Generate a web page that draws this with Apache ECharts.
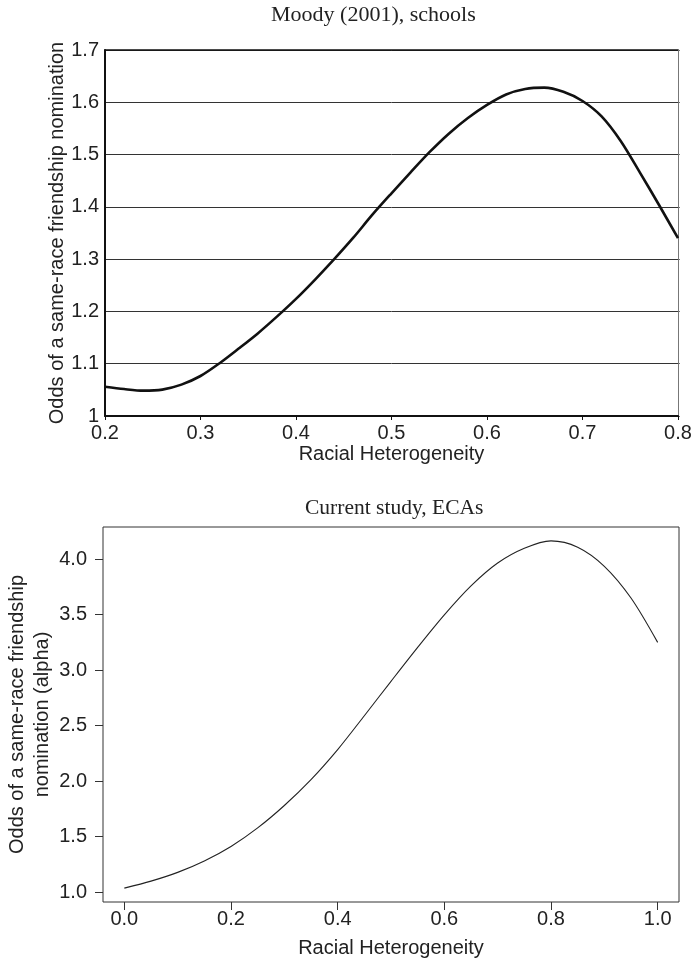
<!DOCTYPE html>
<html>
<head>
<meta charset="utf-8">
<script src="https://cdn.jsdelivr.net/npm/echarts@6/dist/echarts.min.js"></script>
<style>
  html, body { margin: 0; padding: 0; background: #fff; }
  #chart { width: 693px; height: 962px; }
</style>
</head>
<body>
<div id="chart"></div>
<script>
// Upper panel: Moody (2001), schools
const moodyX = [0.20, 0.22, 0.24, 0.26, 0.28, 0.30, 0.32, 0.34, 0.36, 0.38,
                0.40, 0.42, 0.44, 0.46, 0.48, 0.50, 0.52, 0.54, 0.56, 0.58,
                0.60, 0.62, 0.64, 0.66, 0.68, 0.70, 0.72, 0.74, 0.76, 0.78, 0.80];
const moodyOdds = [1.056, 1.0515, 1.0485, 1.0505, 1.0600, 1.0765, 1.101, 1.129, 1.158, 1.190,
                   1.224, 1.261, 1.300, 1.341, 1.385, 1.426, 1.466, 1.505, 1.540, 1.570,
                   1.595, 1.615, 1.6255, 1.628, 1.620, 1.6025, 1.573, 1.526, 1.466, 1.404, 1.340];

// Lower panel: current study, ECAs
const ecaX = [0.00, 0.05, 0.10, 0.15, 0.20, 0.25, 0.30, 0.35, 0.40, 0.45, 0.50,
              0.55, 0.60, 0.65, 0.70, 0.75, 0.80, 0.85, 0.90, 0.95, 1.00];
const ecaOdds = [1.035, 1.098, 1.177, 1.280, 1.411, 1.578, 1.780, 2.013, 2.284, 2.589, 2.899,
                 3.205, 3.498, 3.759, 3.965, 4.098, 4.165, 4.108, 3.936, 3.650, 3.250];

// Tick values
const moodyXTicks = [0.2, 0.3, 0.4, 0.5, 0.6, 0.7, 0.8];
const moodyYTicks = [1, 1.1, 1.2, 1.3, 1.4, 1.5, 1.6, 1.7];
const ecaXTicks = [0.0, 0.2, 0.4, 0.6, 0.8, 1.0];
const ecaYTicks = [1.0, 1.5, 2.0, 2.5, 3.0, 3.5, 4.0];

const sans = 'Liberation Sans, Arial, sans-serif';
const serif = 'Liberation Serif, Times New Roman, serif';
const ink = '#222';

const pair = (xs, ys) => xs.map((x, i) => [x, ys[i]]);

const chart = echarts.init(document.getElementById('chart'), null, { renderer: 'canvas' });

chart.setOption({
  backgroundColor: '#fff',
  animation: false,
  title: [
    {
      text: 'Moody (2001), schools',
      left: 271, top: 4, padding: 0,
      textStyle: { fontFamily: serif, fontSize: 22, fontWeight: 'normal', color: ink }
    },
    {
      text: 'Current study, ECAs',
      left: 305, top: 497, padding: 0,
      textStyle: { fontFamily: serif, fontSize: 21.5, fontWeight: 'normal', color: ink }
    }
  ],
  grid: [
    { left: 105, top: 50, width: 573, height: 366, show: false, outerBoundsMode: 'none' },
    { left: 103, top: 527, width: 576, height: 375, show: true, outerBoundsMode: 'none',
      borderColor: '#333', borderWidth: 1, backgroundColor: 'transparent' }
  ],
  xAxis: [
    {
      gridIndex: 0, type: 'value', position: 'bottom',
      min: 0.2, max: 0.8, interval: 0.1,
      name: 'Racial Heterogeneity', nameLocation: 'middle', nameGap: 28,
      nameMoveOverlap: false,
      nameTextStyle: { fontFamily: sans, fontSize: 20, color: ink },
      axisLine: { show: true, onZero: false, lineStyle: { color: '#111', width: 2 } },
      axisTick: { show: true, length: 4, customValues: moodyXTicks,
                  lineStyle: { color: '#111', width: 1 } },
      axisLabel: { fontFamily: sans, fontSize: 20, color: ink, margin: 7,
                   customValues: moodyXTicks, formatter: v => v.toFixed(1) },
      splitLine: { show: false }
    },
    {
      gridIndex: 0, type: 'value', position: 'top',
      min: 0.2, max: 0.8, interval: 0.1,
      axisLine: { show: true, onZero: false, lineStyle: { color: '#111', width: 1.5 } },
      axisTick: { show: false }, axisLabel: { show: false }, splitLine: { show: false }
    },
    {
      gridIndex: 1, type: 'value', position: 'bottom',
      min: -0.04, max: 1.04,
      name: 'Racial Heterogeneity', nameLocation: 'middle', nameGap: 36,
      nameMoveOverlap: false,
      nameTextStyle: { fontFamily: sans, fontSize: 20, color: ink },
      axisLine: { show: false, onZero: false },
      axisTick: { show: true, length: 8, customValues: ecaXTicks,
                  lineStyle: { color: '#333', width: 1 } },
      axisLabel: { fontFamily: sans, fontSize: 20, color: ink, margin: 7,
                   customValues: ecaXTicks, formatter: v => v.toFixed(1) },
      splitLine: { show: false }
    }
  ],
  yAxis: [
    {
      gridIndex: 0, type: 'value', position: 'left',
      min: 1, max: 1.7, interval: 0.1,
      name: 'Odds of a same-race friendship nomination',
      nameLocation: 'middle', nameRotate: 90, nameGap: 38,
      nameMoveOverlap: false,
      nameTextStyle: { fontFamily: sans, fontSize: 20, color: ink },
      axisLine: { show: true, onZero: false, lineStyle: { color: '#111', width: 2 } },
      axisTick: { show: false },
      axisLabel: { fontFamily: sans, fontSize: 20, color: ink, margin: 6,
                   customValues: moodyYTicks,
                   formatter: v => (Math.abs(v - 1) < 1e-9 ? '1' : v.toFixed(1)) },
      splitLine: { show: true, lineStyle: { color: '#333', width: 1 } }
    },
    {
      gridIndex: 0, type: 'value', position: 'right',
      min: 1, max: 1.7, interval: 0.1,
      axisLine: { show: true, onZero: false, lineStyle: { color: '#777', width: 1 } },
      axisTick: { show: true, length: 2, lineStyle: { color: '#777' } },
      axisLabel: { show: false }, splitLine: { show: false }
    },
    {
      gridIndex: 1, type: 'value', position: 'left',
      min: 0.91, max: 4.29,
      name: 'Odds of a same-race friendship\nnomination (alpha)',
      nameLocation: 'middle', nameRotate: 90, nameGap: 48,
      nameMoveOverlap: false,
      nameTextStyle: { fontFamily: sans, fontSize: 20, color: ink, lineHeight: 25, align: 'center' },
      axisLine: { show: false, onZero: false },
      axisTick: { show: true, length: 8, customValues: ecaYTicks,
                  lineStyle: { color: '#333', width: 1 } },
      axisLabel: { fontFamily: sans, fontSize: 20, color: ink, margin: 16,
                   customValues: ecaYTicks, formatter: v => v.toFixed(1) },
      splitLine: { show: false }
    }
  ],
  series: [
    {
      type: 'line', xAxisIndex: 0, yAxisIndex: 0,
      data: pair(moodyX, moodyOdds),
      smooth: 0.3, showSymbol: false,
      lineStyle: { color: '#111', width: 2.6 }
    },
    {
      type: 'line', xAxisIndex: 2, yAxisIndex: 2,
      data: pair(ecaX, ecaOdds),
      smooth: 0.3, showSymbol: false,
      lineStyle: { color: '#222', width: 1.1 }
    }
  ]
});
</script>
</body>
</html>
